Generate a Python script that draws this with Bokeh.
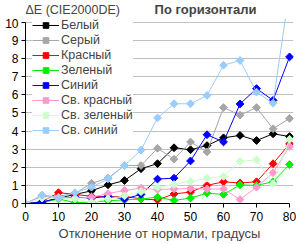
import numpy as np
from bokeh.plotting import figure
from bokeh.layouts import column
from bokeh.models import Range1d, FixedTicker, Legend, LegendItem, Label, ColumnDataSource
from bokeh.embed import file_html
from bokeh.resources import INLINE

angles = [0, 5, 10, 15, 20, 25, 30, 35, 40, 45, 50, 55, 60, 65, 70, 75, 80]
white = [0, 0.07, 0.3, 0.5, 0.7, 1.03, 1.27, 1.92, 2.2, 3.08, 2.97, 3.2, 3.63, 3.76, 3.48, 3.85, 3.7]
gray = [0, 0.4, 0.4, 0.55, 1.12, 1.4, 2.1, 2.1, 3.05, 2.45, 3.4, 2.85, 5.3, 4.88, 5.3, 4.13, 4.7]
red = [0, 0.1, 0.6, 0.5, 0.4, 0.35, 0.4, 0.25, 0.2, 0.53, 0.63, 1.0, 1.2, 1.13, 1.2, 2.2, 3.3]
green = [0, 0.05, 0.25, 0.05, 0.07, 0.15, 0.2, 0.25, 0.35, 0.17, 0.3, 0.57, 0.5, 1.03, 1.0, 1.2, 2.15]
blue = [0, 0.08, 0.3, 0.35, 0.3, 0.4, 0.25, 0.5, 1.35, 1.4, 2.35, 3.8, 3.4, 5.5, 6.35, 5.7, 8.1]
lt_red = [0, 0.45, 0.35, 0.3, 0.35, 0.55, 0.72, 0.85, 0.78, 0.8, 0.83, 0.8, 0.8, 0.22, 0.9, 1.7, 3.15]
lt_green = [0, 0.3, 0.3, 0.25, 0.05, 0.25, 0.42, 0.65, 0.9, 1.05, 1.22, 1.4, 1.5, 2.33, 2.41, 1.1, 3.55]
lt_blue = [0, 0.46, 0.3, 0.6, 0.9, 1.36, 2.1, 2.95, 4.73, 5.51, 5.51, 5.97, 7.64, 7.9, 6.15, 5.54, 11.8]

names = ["Белый", "Серый", "Красный", "Зеленый", "Синий", "Св. красный", "Св. зеленый", "Св. синий"]
series = [white, gray, red, green, blue, lt_red, lt_green, lt_blue]
colors = ["#000000", "#a6a6a6", "#ff0000", "#00ee00", "#0000ff", "#ff99cc", "#ccffcc", "#99ccff"]

x_ticks = [0, 10, 20, 30, 40, 50, 60, 70, 80]
y_ticks = [0, 1, 2, 3, 4, 5, 6, 7, 8, 9, 10]

FONT = "Liberation Sans"

# header strip with the two top texts
head = figure(width=296, height=18, output_backend="svg", toolbar_location=None,
              x_range=Range1d(0, 296), y_range=Range1d(0, 18),
              x_axis_type=None, y_axis_type=None)
head.min_border = 0
head.min_border_left = 0
head.min_border_right = 0
head.min_border_top = 0
head.min_border_bottom = 0
head.outline_line_color = None
head.grid.visible = False
head.add_layout(Label(x=0, y=9, x_units="screen", y_units="screen", text="ΔE (CIE2000DE)",
                      text_font=FONT, text_font_size="12.5px", text_baseline="middle",
                      text_align="left"))
head.add_layout(Label(x=180, y=9, x_units="screen", y_units="screen", text="По горизонтали",
                      text_font=FONT, text_font_size="13px", text_font_style="bold",
                      text_baseline="middle", text_align="center"))

p = figure(width=296, height=226, output_backend="svg", toolbar_location=None,
           x_range=Range1d(0, 81.2), y_range=Range1d(0, 10.22))
p.min_border_left = 25
p.min_border_right = 3
p.min_border_top = 0
p.min_border_bottom = 41
p.outline_line_color = None

p.xgrid.visible = False
p.ygrid.ticker = FixedTicker(ticks=y_ticks[1:])
p.ygrid.grid_line_color = "#c0c0c0"
p.ygrid.grid_line_width = 1

for ax in (p.xaxis[0], p.yaxis[0]):
    ax.axis_line_color = "black"
    ax.major_tick_line_color = "black"
    ax.major_tick_in = 0
    ax.major_tick_out = 4
    ax.minor_tick_line_color = None
    ax.major_label_text_font = FONT
    ax.major_label_text_font_size = "12px"
    ax.major_label_text_color = "black"

p.xaxis.ticker = FixedTicker(ticks=x_ticks)
p.yaxis.ticker = FixedTicker(ticks=y_ticks)
p.xaxis.bounds = (0, 80)
p.yaxis.bounds = (0, 10)
p.xaxis.major_label_standoff = 4
p.yaxis.major_label_standoff = 3
p.xaxis.axis_label = "Отклонение от нормали, градусы"
p.xaxis.axis_label_text_font = FONT
p.xaxis.axis_label_text_font_size = "13px"
p.xaxis.axis_label_text_font_style = "normal"
p.xaxis.axis_label_standoff = 2

items = []
for name, vals, col in zip(names, series, colors):
    src = ColumnDataSource(dict(x=angles, y=vals))
    ln = p.line("x", "y", source=src, line_color=col, line_width=1)
    sc = p.scatter("x", "y", source=src, marker="square", angle=np.pi / 4, size=5.5,
                   fill_color=col, line_color=col)
    items.append(LegendItem(label=name, renderers=[ln, sc]))

legend = Legend(items=items, location=(7, 66), orientation="vertical")
legend.background_fill_color = "white"
legend.background_fill_alpha = 1
legend.border_line_color = None
legend.padding = 0
legend.margin = 0
legend.spacing = 1
legend.glyph_width = 27
legend.glyph_height = 14
legend.label_height = 14
legend.label_standoff = 2
legend.label_text_font = FONT
legend.label_text_font_size = "12.5px"
p.add_layout(legend, "center")

layout = column(head, p, spacing=0)
open("out.html", "w").write(file_html(layout, INLINE))
